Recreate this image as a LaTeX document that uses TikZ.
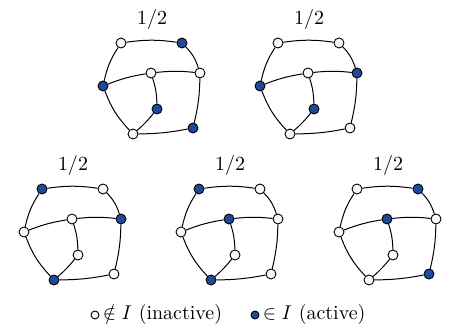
\documentclass[tikz,border=0pt]{standalone}
\usepackage{amsmath,amssymb}
\usepackage{tikz}
\usetikzlibrary{positioning}
\definecolor{actv}{RGB}{30,75,150}
\definecolor{inactv}{RGB}{247,249,253}

\begin{document}
\begin{tikzpicture}[x=0.5pt, y=-0.5pt, every node/.style={font=\normalsize},
    vtx/.style={circle, draw, line width=0.45pt, fill=#1, minimum size=5pt, inner sep=0pt},
    link/.style={line width=0.5pt}]
  \useasboundingbox (0,0) rectangle (450,331);
  % Five colourings of the same graph, each with weight 1/2
  \foreach \dx/\dy/\a/\b/\c/\d/\e/\f/\g/\h [count=\i] in {
      0/0/inactv/actv/actv/inactv/inactv/actv/inactv/actv,
      157/0/inactv/inactv/actv/inactv/actv/actv/inactv/inactv,
      -79/146/actv/inactv/inactv/inactv/actv/inactv/actv/inactv,
      78/146/actv/inactv/inactv/actv/inactv/inactv/actv/inactv,
      236/146/inactv/actv/inactv/actv/inactv/inactv/inactv/actv}{
    \begin{scope}[shift={(\dx,\dy)}]
      \node (w\i) at (152,20) {$1/2$};
      % Vertices
      \node[vtx=\a] (g\i a) at (121,43) {};
      \node[vtx=\b] (g\i b) at (182,43) {};
      \node[vtx=\c] (g\i c) at (103,86) {};
      \node[vtx=\d] (g\i d) at (151,73) {};
      \node[vtx=\e] (g\i e) at (200,73) {};
      \node[vtx=\f] (g\i f) at (157,109) {};
      \node[vtx=\g] (g\i g) at (133,134) {};
      \node[vtx=\h] (g\i h) at (193,128) {};
      % Outer cycle
      \draw[link] (g\i a) to[bend left=8] (g\i b);
      \draw[link] (g\i b) to[bend left=13] (g\i e);
      \draw[link] (g\i e) to[bend left=6] (g\i h);
      \draw[link] (g\i h) to[bend left=5] (g\i g);
      \draw[link] (g\i g) to[bend left=11] (g\i c);
      \draw[link] (g\i c) to[bend left=10] (g\i a);
      % Inner edges
      \draw[link] (g\i c) to[bend left=6] (g\i d);
      \draw[link] (g\i d) to[bend left=6] (g\i e);
      \draw[link] (g\i d) to[bend left=8] (g\i f);
      \draw[link] (g\i f) to[bend left=5] (g\i g);
    \end{scope}
  }
  % Legend
  \node[vtx=inactv, minimum size=4pt] (keyoff) at (95,315) {};
  \node[right=0.5pt of keyoff, inner sep=1pt] (keyofftxt) {$\notin I$ (inactive)};
  \node[vtx=actv, minimum size=4pt] (keyon) at (255,315) {};
  \node[right=0.5pt of keyon, inner sep=1pt] (keyontxt) {$\in I$ (active)};
\end{tikzpicture}
\end{document}
